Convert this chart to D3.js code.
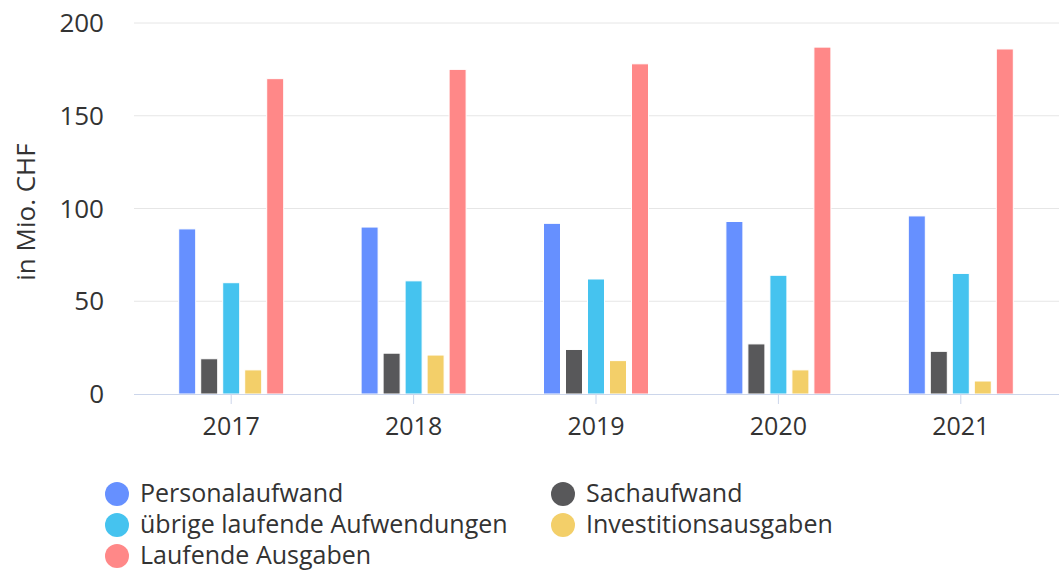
<!DOCTYPE html>
<html>
<head>
<meta charset="utf-8">
<style>
  body { margin: 0; background: #fff; }
  text { font-family: "Open Sans", sans-serif; fill: #333; }
</style>
</head>
<body>
<div id="chart"></div>
<script src="https://d3js.org/d3.v7.min.js"></script>
<script>
var years = ["2017", "2018", "2019", "2020", "2021"];
var seriesNames = ["Personalaufwand", "Sachaufwand", "übrige laufende Aufwendungen", "Investitionsausgaben", "Laufende Ausgaben"];
var seriesColors = ["#6690ff", "#58585a", "#45c3ef", "#f3cf69", "#ff8888"];
var personal = [89, 90, 92, 93, 96];
var sach = [19, 22, 24, 27, 23];
var uebrige = [60, 61, 62, 64, 65];
var invest = [13, 21, 18, 13, 7];
var laufend = [170, 175, 178, 187, 186];
var yTicks = [0, 50, 100, 150, 200];

var values = [personal, sach, uebrige, invest, laufend];

var W = 1059, H = 572;
var plot = {left: 134, right: 1059, top: 23, bottom: 394};

var svg = d3.select("#chart").append("svg")
    .attr("width", W)
    .attr("height", H);

var x = d3.scaleBand().domain(years).range([140, 1052]);
var xInner = d3.scaleBand().domain(d3.range(5)).range([0, 110]);
var y = d3.scaleLinear().domain([0, 200]).range([plot.bottom, plot.top]);

// gridlines
svg.append("g")
  .selectAll("line")
  .data(yTicks.slice(1))
  .enter().append("line")
    .attr("x1", plot.left).attr("x2", plot.right)
    .attr("y1", function(d) { return y(d); })
    .attr("y2", function(d) { return y(d); })
    .attr("stroke", "#e6e6e6");

// y labels
svg.append("g")
  .selectAll("text")
  .data(yTicks)
  .enter().append("text")
    .attr("x", 104)
    .attr("y", function(d) { return y(d) + 9; })
    .attr("text-anchor", "end")
    .style("font-size", "26px")
    .text(function(d) { return d; });

// y title
svg.append("text")
  .attr("transform", "translate(35,212) rotate(-90)")
  .attr("text-anchor", "middle")
  .style("font-size", "26px")
  .text("in Mio. CHF");

// bars
var groups = svg.append("g")
  .selectAll("g")
  .data(years)
  .enter().append("g")
    .attr("transform", function(d) { return "translate(" + (x(d) + x.bandwidth() / 2 - 53) + ",0)"; });

groups.selectAll("rect")
  .data(function(d, i) { return values.map(function(v, s) { return {s: s, v: v[i]}; }); })
  .enter().append("rect")
    .attr("x", function(d) { return xInner(d.s) + 0.5; })
    .attr("width", xInner.bandwidth() - 5)
    .attr("y", function(d) { return y(d.v); })
    .attr("height", function(d) { return y(0) - y(d.v); })
    .attr("fill", function(d) { return seriesColors[d.s]; })
    .attr("stroke", "#fff")
    .attr("stroke-width", 1);

// x axis
svg.append("line")
  .attr("x1", plot.left).attr("x2", plot.right)
  .attr("y1", plot.bottom + 0.5).attr("y2", plot.bottom + 0.5)
  .attr("stroke", "#ccd6eb");

svg.append("g")
  .selectAll("line")
  .data(years)
  .enter().append("line")
    .attr("x1", function(d) { return x(d) + x.bandwidth() / 2; })
    .attr("x2", function(d) { return x(d) + x.bandwidth() / 2; })
    .attr("y1", plot.bottom).attr("y2", plot.bottom + 10)
    .attr("stroke", "#ccd6eb");

svg.append("g")
  .selectAll("text")
  .data(years)
  .enter().append("text")
    .attr("x", function(d) { return x(d) + x.bandwidth() / 2; })
    .attr("y", 435)
    .attr("text-anchor", "middle")
    .style("font-size", "25px")
    .text(function(d) { return d; });

// legend (left column then right column)
var legendPos = [
  {col: 0, row: 0}, {col: 1, row: 0},
  {col: 0, row: 1}, {col: 1, row: 1},
  {col: 0, row: 2}
];
var legend = svg.append("g")
  .selectAll("g")
  .data(seriesNames)
  .enter().append("g")
    .attr("transform", function(d, i) {
      return "translate(" + (117 + legendPos[i].col * 446) + "," + (494 + legendPos[i].row * 31) + ")";
    });

legend.append("circle")
  .attr("r", 12)
  .attr("fill", function(d, i) { return seriesColors[i]; });

legend.append("text")
  .attr("x", 23)
  .attr("y", 8)
  .style("font-size", "25px")
  .text(function(d) { return d; });
</script>
</body>
</html>
